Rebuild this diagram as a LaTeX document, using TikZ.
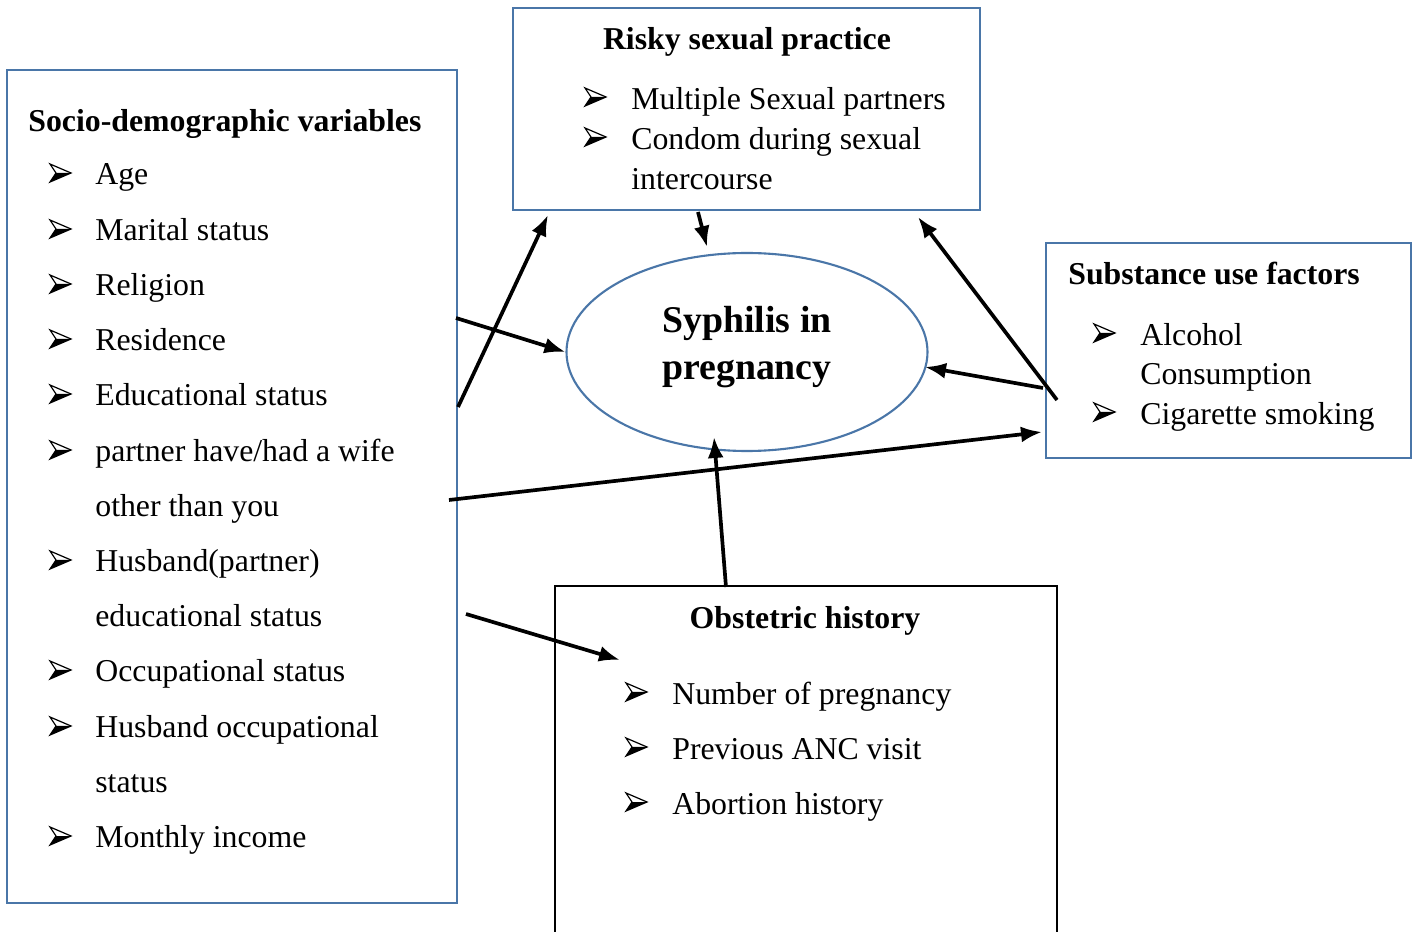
\documentclass[tikz,border=0pt]{standalone}
\usepackage{fontspec}
\setmainfont{Liberation Serif}
\usetikzlibrary{arrows.meta, positioning, shapes.geometric}
\definecolor{frameblue}{RGB}{74,118,168}
\tikzset{
  arrbul/.pic={
    \fill (6,0) -- (21,0) -- (0,9) -- cycle;
    \draw [line width=0.7pt, line join=miter] (0,-9) -- (21,0) -- (0,9) -- (6,0) -- cycle;
  }
}

\begin{document}
\begin{tikzpicture}[
    x=0.02cm, y=-0.02cm,
    frame/.style={draw=frameblue, line width=1.2pt},
    heading/.style={font=\fontsize{18.1}{22}\selectfont\bfseries, inner sep=0pt},
    item/.style={anchor=mid west, font=\fontsize{18.1}{22}\selectfont, inner sep=0pt},
    link/.style={-{Latex[length=0.42cm, width=0.32cm]}, line width=2.1pt}
]
\useasboundingbox (0,0) rectangle (1418,932);

% Boxes
\draw [frame] (7,70) rectangle (457,903);
\draw [frame] (513,8) rectangle (980,210);
\draw [frame] (1046,243) rectangle (1411,458);
\draw [black, line width=1.3pt] (555,940) -- (555,586) -- (1057,586) -- (1057,940);
\node (syph) [ellipse, frame, minimum width=361*0.02cm, minimum height=198*0.02cm] at (747,352) {};

% Socio-demographic variables
\node (socio_head) [heading, anchor=mid west] at (28,127) {Socio-demographic variables};
\foreach \yy/\txt in {174/Age, 230/Marital status, 285/Religion, 340/Residence,
    395/Educational status, 451/{partner have/had a wife}, 561/Husband(partner),
    671/Occupational status, 727/Husband occupational, 837/Monthly income} {
  \pic at (50,\yy-1) {arrbul};
  \node [item] at (95,\yy+6) {\txt};
}
\node (other_you) [item] at (95,512) {other than you};
\node (husb_edu) [item] at (95,622) {educational status};
\node (husb_occ) [item] at (95,788) {status};

% Risky sexual practice
\node (risky_head) [heading] at (747,42) {Risky sexual practice};
\pic at (585,97) {arrbul};
\node (multiple) [item] at (631,105) {Multiple Sexual partners};
\pic at (585,137) {arrbul};
\node (condom) [item] at (631,145) {Condom during sexual};
\node (intercourse) [item] at (631,185) {intercourse};

% Syphilis in pregnancy
\node (syph_text) [font=\fontsize{21.5}{25}\selectfont\bfseries, align=center, inner sep=0pt] at (747,347) {Syphilis in\\[2pt]pregnancy};

% Substance use factors
\node (subst_head) [heading, anchor=mid west] at (1068,280) {Substance use factors};
\pic at (1094,333) {arrbul};
\node (alcohol) [item] at (1140,341) {Alcohol};
\node (consumption) [item] at (1140,380) {Consumption};
\pic at (1094,412) {arrbul};
\node (cigarette) [item] at (1140,420) {Cigarette smoking};

% Obstetric history
\node (obst_head) [heading] at (805,621) {Obstetric history};
\foreach \yy/\txt in {692/Number of pregnancy, 747/Previous ANC visit, 802/Abortion history} {
  \pic at (626,\yy) {arrbul};
  \node [item] at (672,\yy+8) {\txt};
}

% Arrow ends
\coordinate (s1) at (458,407);
\coordinate (s2) at (456,318);
\coordinate (s3) at (449,500);
\coordinate (s4) at (466,614);
\coordinate (r1) at (548,215);
\coordinate (r2) at (698,212);
\coordinate (r3) at (918,217);
\coordinate (e1) at (707,247);
\coordinate (e2) at (925,367);
\coordinate (e3) at (714,437);
\coordinate (u1) at (1057,400);
\coordinate (u2) at (1043,388);
\coordinate (u3) at (1042,432);
\coordinate (o1) at (726,587);
\coordinate (o2) at (620,660);

% Arrows
\draw [link] (s1) -- (r1);
\draw [link] (s2) -- (syph.west);
\draw [link] (s3) -- (u3);
\draw [link] (s4) -- (o2);
\draw [link] (r2) -- (e1);
\draw [link] (u1) -- (r3);
\draw [link] (u2) -- (e2);
\draw [link] (o1) -- (e3);

\end{tikzpicture}
\end{document}
